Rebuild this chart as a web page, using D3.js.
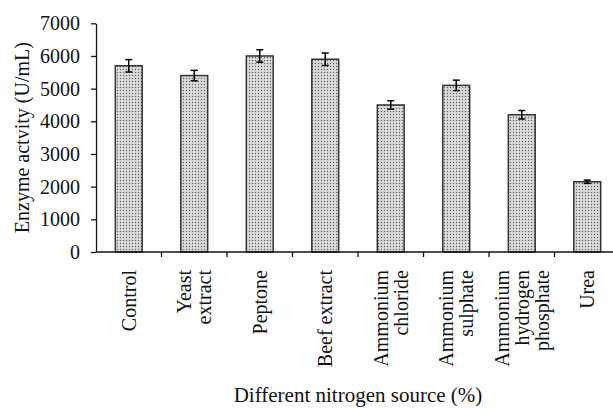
<!DOCTYPE html>
<html lang="en">
<head>
    <meta charset="UTF-8">
    <title>Enzyme activity vs nitrogen source</title>
    <style>
        body { margin: 0; background: #fff; }
        text { font-family: "Liberation Serif", "DejaVu Serif", serif; fill: #111; }
    </style>
</head>
<body>
    <svg id="chart" width="613" height="409"></svg>
    <script src="https://d3js.org/d3.v7.min.js"></script>
    <script>
        // Data
        var categories = ["Control", "Yeast extract", "Peptone", "Beef extract",
                          "Ammonium chloride", "Ammonium sulphate",
                          "Ammonium hydrogen phosphate", "Urea"];
        // how each label is broken into lines
        var labelLines = [["Control"], ["Yeast", "extract"], ["Peptone"], ["Beef extract"],
                          ["Ammonium", "chloride"], ["Ammonium", "sulphate"],
                          ["Ammonium", "hydrogen", "phosphate"], ["Urea"]];
        var activity = [5700, 5400, 6000, 5900, 4500, 5100, 4200, 2150];
        var errors = [190, 160, 190, 190, 130, 160, 130, 50];
        var yTicks = [0, 1000, 2000, 3000, 4000, 5000, 6000, 7000];

        var svg = d3.select("#chart");
        var plotLeft = 96, plotTop = 23.3, plotBottom = 252, plotRight = 620;
        var fontSize = "20px";

        var x = d3.scaleBand()
                  .domain(categories)
                  .range([plotLeft, plotRight])
                  .paddingInner(0.59)
                  .paddingOuter(0.295);

        var y = d3.scaleLinear()
                  .domain([0, 7000])
                  .range([plotBottom, plotTop]);

        // stipple fill
        var defs = svg.append("defs");
        var pat = defs.append("pattern")
                      .attr("id", "dots")
                      .attr("patternUnits", "userSpaceOnUse")
                      .attr("width", 3).attr("height", 3);
        pat.append("rect").attr("width", 3).attr("height", 3).attr("fill", "#cfcfcf");
        pat.append("rect").attr("x", 0).attr("y", 0).attr("width", 1).attr("height", 1).attr("fill", "#5e5e5e");
        pat.append("rect").attr("x", 1.5).attr("y", 1.5).attr("width", 1).attr("height", 1).attr("fill", "#fafafa");

        // y axis
        var yAxis = d3.axisLeft(y)
                      .tickValues(yTicks)
                      .tickFormat(d3.format("d"))
                      .tickSize(5)
                      .tickSizeOuter(0)
                      .tickPadding(11);
        var gy = svg.append("g")
                    .attr("transform", "translate(" + plotLeft + ",0)")
                    .call(yAxis);
        gy.select(".domain").attr("stroke", "#111").attr("stroke-width", 1.3);
        gy.selectAll(".tick line").attr("stroke", "#111").attr("stroke-width", 1.3);
        gy.selectAll(".tick text")
          .style("font-family", "'Liberation Serif', serif")
          .style("font-size", fontSize)
          .attr("fill", "#111");

        // bars
        svg.selectAll("rect.bar")
           .data(activity)
           .enter().append("rect")
           .attr("class", "bar")
           .attr("x", function(d, i) { return x(categories[i]); })
           .attr("y", function(d) { return y(d); })
           .attr("width", x.bandwidth())
           .attr("height", function(d) { return y(0) - y(d); })
           .attr("fill", "url(#dots)")
           .attr("stroke", "#333")
           .attr("stroke-width", 1.5);

        // error bars
        var eb = svg.selectAll("g.err")
                    .data(activity)
                    .enter().append("g")
                    .attr("class", "err")
                    .attr("stroke", "#000")
                    .attr("stroke-width", 1.5);
        function cx(i) { return x(categories[i]) + x.bandwidth() / 2; }
        eb.append("line")
          .attr("x1", function(d, i) { return cx(i); })
          .attr("x2", function(d, i) { return cx(i); })
          .attr("y1", function(d, i) { return y(d + errors[i]); })
          .attr("y2", function(d, i) { return y(d - errors[i]); });
        eb.append("line")
          .attr("x1", function(d, i) { return cx(i) - 3.5; })
          .attr("x2", function(d, i) { return cx(i) + 3.5; })
          .attr("y1", function(d, i) { return y(d + errors[i]); })
          .attr("y2", function(d, i) { return y(d + errors[i]); });
        eb.append("line")
          .attr("x1", function(d, i) { return cx(i) - 3.5; })
          .attr("x2", function(d, i) { return cx(i) + 3.5; })
          .attr("y1", function(d, i) { return y(d - errors[i]); })
          .attr("y2", function(d, i) { return y(d - errors[i]); });

        // x axis line with ticks between categories
        svg.append("line")
           .attr("x1", plotLeft).attr("x2", 613)
           .attr("y1", y(0)).attr("y2", y(0))
           .attr("stroke", "#111").attr("stroke-width", 1.3);
        svg.selectAll("line.xtick")
           .data(categories.slice(1))
           .enter().append("line")
           .attr("class", "xtick")
           .attr("x1", function(d) { return x(d) - x.step() * 0.295; })
           .attr("x2", function(d) { return x(d) - x.step() * 0.295; })
           .attr("y1", y(0)).attr("y2", y(0) + 5)
           .attr("stroke", "#111").attr("stroke-width", 1.3);

        // rotated category labels
        var lh = 20;
        labelLines.forEach(function(lines, i) {
            var t = svg.append("text")
                       .attr("transform", "translate(" + cx(i) + ",270) rotate(-90)")
                       .attr("text-anchor", "end")
                       .style("font-size", fontSize);
            lines.forEach(function(s, j) {
                t.append("tspan")
                 .attr("x", 0)
                 .attr("y", (j - (lines.length - 1) / 2) * lh)
                 .attr("dy", "0.35em")
                 .text(s);
            });
        });

        // axis titles
        svg.append("text")
           .attr("transform", "translate(29," + ((plotTop + plotBottom) / 2) + ") rotate(-90)")
           .attr("text-anchor", "middle")
           .style("font-size", fontSize)
           .text("Enzyme actvity (U/mL)");

        svg.append("text")
           .attr("x", (plotLeft + plotRight) / 2)
           .attr("y", 402)
           .attr("text-anchor", "middle")
           .style("font-size", "21px")
           .text("Different nitrogen source (%)");
    </script>
</body>
</html>
